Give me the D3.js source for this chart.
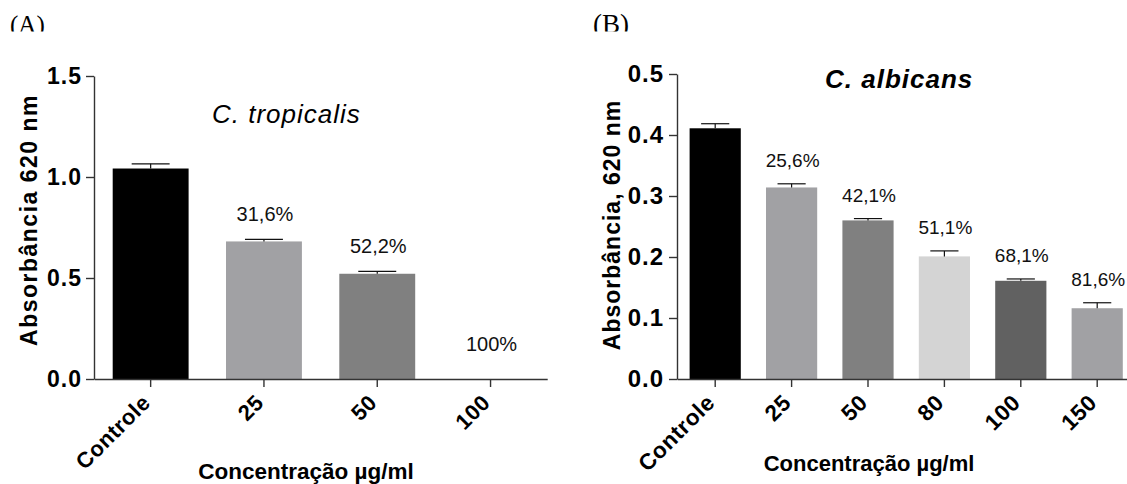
<!DOCTYPE html>
<html>
<head>
<meta charset="utf-8">
<script src="https://d3js.org/d3.v7.min.js"></script>
<style>
  body { margin: 0; background: #fff; }
  text { font-family: "Liberation Sans", Arial, sans-serif; fill: #000; }
</style>
</head>
<body>
<div id="chart"></div>
<script>
// panel A - C. tropicalis
var catsA = ["Controle", "25", "50", "100"];
var meanA = [1.042, 0.681, 0.521, 0];
var semA = [0.023, 0.010, 0.012, 0];
var pctA = ["", "31,6%", "52,2%", "100%"];
var ticksA = [0, 0.5, 1.0, 1.5];

// panel B - C. albicans
var catsB = ["Controle", "25", "50", "80", "100", "150"];
var meanB = [0.411, 0.314, 0.260, 0.201, 0.161, 0.116];
var semB = [0.0075, 0.006, 0.003, 0.009, 0.003, 0.009];
var pctB = ["", "25,6%", "42,1%", "51,1%", "68,1%", "81,6%"];
var ticksB = [0, 0.1, 0.2, 0.3, 0.4, 0.5];

var svg = d3.select("#chart").append("svg")
    .attr("width", 1127).attr("height", 484);

// letters (A) (B) are cut at the bottom in the original
svg.append("clipPath").attr("id", "lettercut")
    .append("rect").attr("x", 0).attr("y", 0).attr("width", 1127).attr("height", 31.5);

function drawPanel(o) {
    var g = svg.append("g");

    // half outer padding so the first band starts right at the y axis
    var x = d3.scaleBand().domain(o.cats).range([o.x0, o.x1])
        .paddingInner(0.33).paddingOuter(0.165);
    var y = d3.scaleLinear().domain([0, o.yMax]).range([379, o.yTop]);

    // bars
    g.selectAll("rect.bar")
        .data(o.cats)
        .enter()
        .append("rect")
        .attr("class", "bar")
        .attr("x", function(d) { return x(d) })
        .attr("width", x.bandwidth())
        .attr("y", function(d, i) { return y(o.mean[i]) })
        .attr("height", function(d, i) { return y(0) - y(o.mean[i]) })
        .style("fill", function(d, i) { return o.colors[i] });

    // error bars (upper only)
    var capW = x.bandwidth() * o.cap;
    o.cats.forEach(function(d, i) {
        if (!o.sem[i]) return;
        var cx = x(d) + x.bandwidth() / 2;
        var top = y(o.mean[i] + o.sem[i]);
        g.append("line").attr("x1", cx).attr("x2", cx)
            .attr("y1", y(o.mean[i])).attr("y2", top)
            .style("stroke", "#111").style("stroke-width", 1.2);
        g.append("line").attr("x1", cx - capW / 2).attr("x2", cx + capW / 2)
            .attr("y1", top).attr("y2", top)
            .style("stroke", "#111").style("stroke-width", 1.2);
    });

    // percentage labels
    g.selectAll("text.pct")
        .data(o.cats)
        .enter()
        .append("text")
        .attr("class", "pct")
        .attr("text-anchor", "middle")
        .attr("x", function(d) { return x(d) + x.bandwidth() / 2 + 1 })
        .attr("y", function(d, i) {
            return Math.min(y(o.mean[i] + o.sem[i]) - o.pctGap, y(0) - 28)
        })
        .style("font-size", o.pctSize + "px")
        .style("fill", "#111")
        .text(function(d, i) { return o.pct[i] });

    // y axis
    var yAxis = d3.axisLeft(y).tickValues(o.ticks).tickFormat(d3.format(".1f"))
        .tickSize(8).tickSizeOuter(0).tickPadding(o.yPad);
    var ya = g.append("g").attr("transform", "translate(" + o.x0 + ",0)").call(yAxis);
    ya.selectAll("path, line").style("stroke", "#333").style("stroke-width", 1.4);
    ya.selectAll("text")
        .style("font-size", o.yTickSize + "px").style("font-weight", "bold")
        .style("letter-spacing", "1px").style("fill", "#000")
        .style("font-family", "'Liberation Sans', Arial, sans-serif");

    // x axis, labels turned 45 degrees
    var xAxis = d3.axisBottom(x).tickSize(8).tickSizeOuter(0);
    var xa = g.append("g").attr("transform", "translate(0,379)").call(xAxis);
    xa.selectAll("path, line").style("stroke", "#333").style("stroke-width", 1.4);
    xa.selectAll("text")
        .attr("y", 0).attr("dy", 0)
        .attr("text-anchor", "end")
        .attr("transform", "translate(1,25) rotate(-45)")
        .style("font-size", o.xTickSize + "px").style("font-weight", "bold")
        .style("letter-spacing", o.xTickSpacing + "px").style("fill", "#000")
        .style("font-family", "'Liberation Sans', Arial, sans-serif");

    // axis titles
    g.append("text")
        .attr("text-anchor", "middle")
        .attr("transform", "translate(" + o.yTitleX + "," + o.yTitleY + ") rotate(-90)")
        .style("font-size", "23px").style("font-weight", "bold")
        .style("letter-spacing", o.yTitleSpacing + "px")
        .text(o.yTitle);

    g.append("text")
        .attr("text-anchor", "middle")
        .attr("x", o.xTitleX).attr("y", o.xTitleY)
        .style("font-size", o.xTitleSize + "px").style("font-weight", "bold")
        .text("Concentração µg/ml");

    // species title
    g.append("text")
        .attr("x", o.titleX).attr("y", o.titleY)
        .style("font-size", "26px").style("font-style", "italic")
        .style("font-weight", o.titleWeight)
        .style("letter-spacing", "1px")
        .text(o.title);

    // panel letter
    g.append("text")
        .attr("x", o.letterX).attr("y", 33)
        .attr("clip-path", "url(#lettercut)")
        .style("font-family", "'Liberation Serif', 'Times New Roman', serif")
        .style("font-size", o.letterSize + "px")
        .text(o.letter);
}

drawPanel({
    cats: catsA, mean: meanA, sem: semA, pct: pctA, ticks: ticksA,
    colors: ["#000000", "#a1a1a4", "#808080", "#808080"],
    x0: 94, x1: 547.2, yMax: 1.5, yTop: 76, cap: 0.5,
    pctGap: 18.6, pctSize: 20,
    yPad: 4, yTickSize: 23, xTickSize: 22, xTickSpacing: 0.5,
    yTitle: "Absorbância 620 nm", yTitleX: 37, yTitleY: 220, yTitleSpacing: 1.5,
    xTitleX: 306, xTitleY: 479, xTitleSize: 22.5,
    title: "C. tropicalis", titleX: 212, titleY: 123, titleWeight: "normal",
    letter: "(A)", letterX: 10, letterSize: 25
});

drawPanel({
    cats: catsB, mean: meanB, sem: semB, pct: pctB, ticks: ticksB,
    colors: ["#000000", "#a1a1a4", "#808080", "#d4d4d4", "#616161", "#a1a1a4"],
    x0: 677, x1: 1135.4, yMax: 0.5, yTop: 74, cap: 0.55,
    pctGap: 17, pctSize: 19,
    yPad: 5, yTickSize: 24, xTickSize: 22.5, xTickSpacing: 0.6,
    yTitle: "Absorbância, 620 nm", yTitleX: 620, yTitleY: 225, yTitleSpacing: 1,
    xTitleX: 869, xTitleY: 471, xTitleSize: 22,
    title: "C. albicans", titleX: 825, titleY: 88, titleWeight: "bold",
    letter: "(B)", letterX: 593, letterSize: 27
});
</script>
</body>
</html>
